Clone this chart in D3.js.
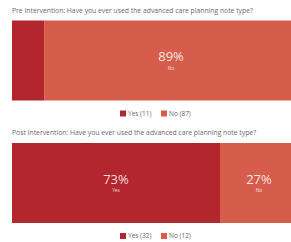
<!DOCTYPE html>
<html>
<head>
<meta charset="utf-8">
<script src="https://cdn.jsdelivr.net/npm/d3@7"></script>
<style>
  body { margin: 0; background: #fff; overflow: hidden; }
  text { font-family: "Open Sans", "Noto Sans", sans-serif; }
</style>
</head>
<body>
<svg id="chart" width="291" height="242"></svg>
<script>
// Data
const categories = ['Yes', 'No']
const panel_titles = [
  'Pre Intervention: Have you ever used the advanced care planning note type?',
  'Post Intervention: Have you ever used the advanced care planning note type?'
]
const pre_counts = [11, 87]
const post_counts = [32, 12]

const color_dict = { 'Yes': '#b3262d', 'No': '#d65d4b' }

let svg = d3.select('#chart')

// x scale runs a bit past the right edge, like the source crop
let x = d3.scaleLinear().domain([0, 1]).range([12, 298])

function draw_panel(title, counts, top) {
  let total = d3.sum(counts)
  let stacked = []
  let acc = 0
  categories.forEach(function(c, i) {
    stacked.push({ cat: c, count: counts[i], x0: acc / total, x1: (acc + counts[i]) / total })
    acc += counts[i]
  })

  let g = svg.append('g').attr('transform', `translate(0, ${top})`)

  // Title
  g.append('text')
    .attr('x', 12)
    .attr('y', -8)
    .style('font-size', '6.8px')
    .style('fill', '#6b6b6b')
    .text(title)

  let bar_h = 80
  let y = d3.scaleBand().domain(['bar']).range([0, bar_h]).padding(0)

  // Bar segments
  g.selectAll('rect.seg')
    .data(stacked)
    .join('rect')
    .attr('class', 'seg')
    .attr('x', d => x(d.x0))
    .attr('width', d => x(d.x1) - x(d.x0))
    .attr('y', y('bar'))
    .attr('height', y.bandwidth())
    .style('fill', d => color_dict[d.cat])

  // Labels (only for segments large enough)
  let labelled = stacked.filter(d => d.x1 - d.x0 > 0.2)
  let cy = y('bar') + y.bandwidth() / 2

  g.selectAll('text.pct')
    .data(labelled)
    .join('text')
    .attr('class', 'pct')
    .attr('x', d => (x(d.x0) + x(d.x1)) / 2)
    .attr('y', cy + 0.5)
    .attr('text-anchor', 'middle')
    .style('font-size', '13px')
    .style('fill', '#fff')
    .style('fill-opacity', 0.85)
    .text(d => Math.round(d.count / total * 100) + '%')

  g.selectAll('text.cat')
    .data(labelled)
    .join('text')
    .attr('class', 'cat')
    .attr('x', d => (x(d.x0) + x(d.x1)) / 2)
    .attr('y', cy + 9)
    .attr('text-anchor', 'middle')
    .style('font-size', '4.8px')
    .style('fill', '#fff')
    .style('fill-opacity', 0.8)
    .text(d => d.cat)

  // Legend
  let legend = g.append('g').attr('transform', `translate(0, ${bar_h + 13})`)
  let legend_x = [120, 161]
  stacked.forEach(function(d, i) {
    legend.append('rect')
      .attr('x', legend_x[i])
      .attr('y', -3)
      .attr('width', 6)
      .attr('height', 6)
      .style('fill', color_dict[d.cat])
    legend.append('text')
      .attr('x', legend_x[i] + 8)
      .attr('y', 2.3)
      .style('font-size', '6.5px')
      .style('fill', '#666')
      .text(`${d.cat} (${d.count})`)
  })
}

draw_panel(panel_titles[0], pre_counts, 20.5)
draw_panel(panel_titles[1], post_counts, 143)
</script>
</body>
</html>
